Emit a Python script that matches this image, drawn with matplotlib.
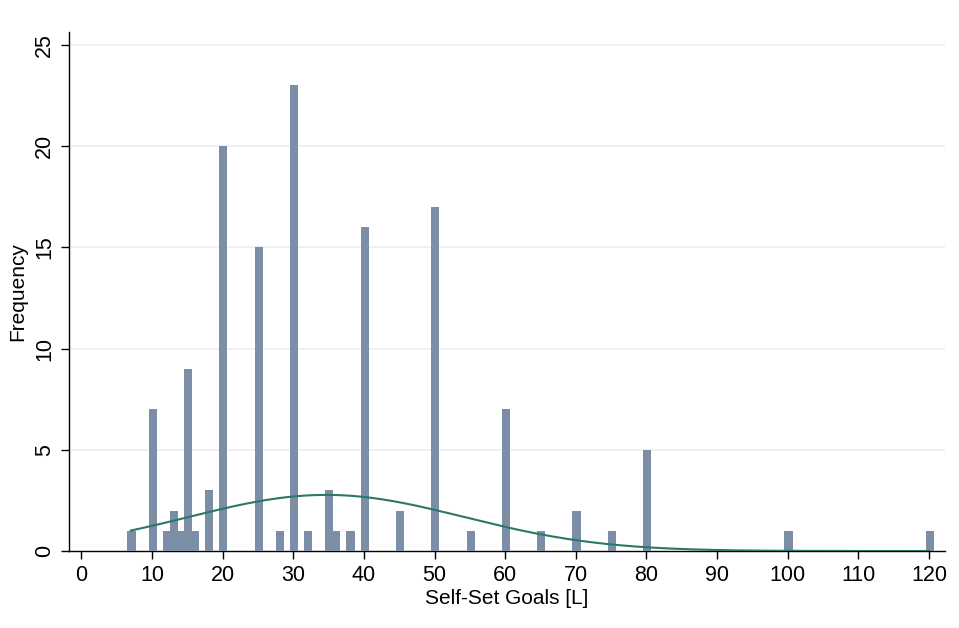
import numpy as np
import matplotlib
matplotlib.use("Agg")
import matplotlib.pyplot as plt

# Data: self-set goal values (L) and their frequencies
goal_values = [7, 10, 12, 13, 14, 15, 16, 18, 20, 25, 28, 30, 32, 35, 36, 38,
               40, 45, 50, 55, 60, 65, 70, 75, 80, 100, 120]
goal_counts = [1, 7, 1, 2, 1, 9, 1, 3, 20, 15, 1, 23, 1, 3, 1, 1,
               16, 2, 17, 1, 7, 1, 2, 1, 5, 1, 1]
x_ticks = list(range(0, 121, 10))
y_ticks = [0, 5, 10, 15, 20, 25]

plt.rcParams['font.family'] = ['Liberation Sans', 'DejaVu Sans']

fig = plt.figure(figsize=(9.59, 6.28), dpi=100)
ax = fig.add_axes([0.072, 0.1226, 0.913, 0.827])

bar_color = '#7b8ea6'
curve_color = '#2b7866'
grid_color = '#e6eff1'

v = np.array(goal_values, dtype=float)
c = np.array(goal_counts, dtype=float)

ax.bar(v + 0.1, c, width=1.15, color=bar_color, edgecolor='none',
       align='center', zorder=3)

# Normal density fitted to the data, scaled to frequency
n = c.sum()
mu = (v * c).sum() / n
sd = np.sqrt((c * (v - mu) ** 2).sum() / (n - 1))
bin_w = 0.94
xs = np.linspace(v.min(), v.max(), 400)
ys = n * bin_w * np.exp(-0.5 * ((xs - mu) / sd) ** 2) / (sd * np.sqrt(2 * np.pi))
ax.plot(xs, ys, color=curve_color, lw=1.5, zorder=4)

ax.set_xlim(-1.74, 122.2)
ax.set_ylim(0, 25.66)
ax.set_xticks(x_ticks)
ax.set_yticks(y_ticks)
ax.set_yticklabels([str(t) for t in y_ticks], rotation=90, va='center')
for t in y_ticks[1:]:
    ax.axhline(t, color=grid_color, lw=1.2, zorder=1)

for s in ['top', 'right']:
    ax.spines[s].set_visible(False)
for s in ['left', 'bottom']:
    ax.spines[s].set_color('black')
    ax.spines[s].set_linewidth(1.0)
ax.tick_params(axis='both', direction='out', length=6, width=1.0,
               labelsize=15.5, color='black', pad=4)

ax.set_xlabel('Self-Set Goals [L]', fontsize=15, labelpad=2)
ax.set_ylabel('Frequency', fontsize=15, labelpad=5)

fig.savefig('out.png', dpi=100, facecolor='white')
